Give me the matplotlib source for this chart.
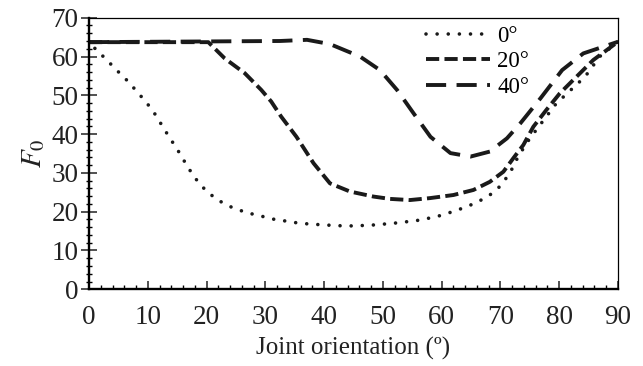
import matplotlib
matplotlib.use("Agg")
import matplotlib.pyplot as plt
from matplotlib.ticker import MultipleLocator

# values
x0 = [1.0, 2.9, 4.7, 6.5, 8.2, 9.9, 11.4, 12.7, 14.1, 15.5, 16.8, 18.2, 19.9, 21.9,
      24.2, 26.7, 29.2, 31.6, 33.0, 35.9, 39.8, 43.8, 47.8, 51.7, 55.7, 59.1, 62.5,
      65.9, 68.2, 69.9, 71.6, 72.7, 74.4, 76.1, 77.8, 79.5, 81.0, 84.4, 86.9, 90.0]
y0 = [62.1, 59.3, 56.5, 53.8, 50.9, 47.9, 44.8, 41.5, 38.2, 34.9, 31.5, 28.4, 25.4, 23.0,
      21.2, 19.8, 18.9, 18.0, 17.7, 17.0, 16.6, 16.3, 16.5, 17.0, 17.7, 18.7, 20.3,
      22.3, 24.3, 26.5, 29.9, 33.3, 37.6, 41.1, 44.5, 47.9, 50.0, 54.8, 60.0, 63.8]

x20 = [0.0, 20.3, 23.1, 26.5, 29.3, 31.0, 32.7, 35.3, 38.2, 41.0, 44.4, 48.4, 51.2,
       54.6, 58.0, 62.0, 65.4, 68.2, 70.5, 72.2, 73.9, 75.6, 77.8, 80.1, 85.8, 90.0]
y20 = [63.7, 63.7, 59.5, 55.7, 51.4, 48.4, 44.5, 39.3, 32.5, 27.3, 25.2, 23.9, 23.3,
       23.0, 23.5, 24.3, 25.6, 27.7, 30.3, 33.8, 37.2, 41.9, 46.2, 50.5, 59.1, 63.8]

x40 = [0.0, 32.5, 37.1, 41.0, 46.1, 49.5, 52.4, 55.2, 58.1, 61.5, 64.9, 68.2, 71.1,
       73.4, 76.8, 80.5, 84.1, 90.0]
y40 = [63.7, 64.0, 64.3, 63.2, 60.0, 56.5, 51.4, 45.4, 39.3, 35.1, 34.2, 35.5, 38.9,
       42.8, 49.2, 56.5, 60.8, 63.8]

labels = ["0°", "20°", "40°"]

plt.rcParams['font.family'] = ['Liberation Serif', 'DejaVu Serif']
plt.rcParams['mathtext.fontset'] = 'stix'
plt.rcParams['mathtext.default'] = 'it'
plt.rcParams['lines.scale_dashes'] = False

fig = plt.figure(figsize=(6.43, 3.66), dpi=100)
ax = fig.add_axes([0.1384, 0.2096, 0.8227, 0.742])

ax.plot(x0, y0, color='#1a1a1a', lw=2.6, dashes=(0.01, 8.0),
        dash_capstyle='round', label=labels[0])
ax.plot(x20, y20, color='#1a1a1a', lw=2.8, dashes=(9.5, 3.8),
        dash_capstyle='butt', label=labels[1])
ax.plot(x40, y40, color='#1a1a1a', lw=2.8, dashes=(14.5, 7.5),
        dash_capstyle='butt', label=labels[2])

ax.set_xlim(0, 90)
ax.set_ylim(0, 70)
ax.xaxis.set_major_locator(MultipleLocator(10))
ax.xaxis.set_minor_locator(MultipleLocator(2))
ax.yaxis.set_major_locator(MultipleLocator(10))
ax.yaxis.set_minor_locator(MultipleLocator(2))

ax.tick_params(axis='x', which='major', direction='in', length=6, width=1.1,
               labelsize=19.5, pad=11, colors='#222222')
ax.tick_params(axis='x', which='minor', direction='in', length=3, width=1.0)
ax.tick_params(axis='y', which='major', direction='inout', length=11, width=1.1,
               labelsize=19.5, pad=2, colors='#222222')
ax.tick_params(axis='y', which='minor', direction='inout', length=5, width=1.0)

for side in ['left', 'bottom']:
    ax.spines[side].set_linewidth(1.7)
for side in ['top', 'right']:
    ax.spines[side].set_linewidth(0.9)

ax.set_xlabel('Joint orientation (º)', fontsize=18, labelpad=5, color='#222222')
ax.set_ylabel(r'$F_{0}$', fontsize=21, labelpad=3, color='#222222')

ax.legend(loc='upper left', bbox_to_anchor=(0.62, 1.005), frameon=False,
          fontsize=16.5, handlelength=2.8, handletextpad=0.3, labelspacing=0.2,
          borderaxespad=0.0)

fig.savefig('out.png', dpi=100)
